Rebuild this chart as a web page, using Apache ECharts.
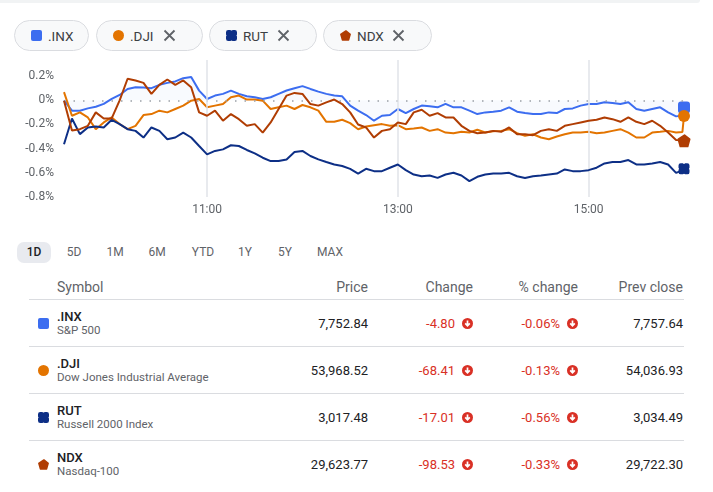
<html>
<head>
<meta charset="UTF-8">
<script src="https://cdn.jsdelivr.net/npm/echarts@6/dist/echarts.min.js"></script>
<style>
  body { margin: 0; background: #fff; font-family: Roboto, "Noto Sans", sans-serif; }
  #page { position: relative; width: 713px; height: 492px; overflow: hidden; }
  #chart { position: absolute; left: 0; top: 0; width: 713px; height: 230px; }
  .topband { position: absolute; left: 0; top: 0; width: 700px; height: 3px; background: #f1f3f4; border-bottom-right-radius: 6px; }
  .chip { position: absolute; top: 20px; height: 29px; border: 1px solid #dadce0; border-radius: 16px; background: #f8f9fa; box-sizing: content-box; }
  .chip .ic { position: absolute; top: 9px; left: 16px; width: 11px; height: 11px; }
  .chip .tx { position: absolute; top: 7px; left: 33px; font-size: 13.5px; color: #3c4043; line-height: 16px; }
  .chip .x { position: absolute; top: 8px; width: 13px; height: 13px; }
  .rng { position: absolute; top: 242px; height: 21px; line-height: 21px; font-size: 12px; color: #5f6368; text-align: center; transform: translateX(-50%); }
  .rng.on { background: #e8eaef; color: #202124; border-radius: 7px; width: 34px; font-weight: 500; }
  .hd { position: absolute; top: 279px; font-size: 14px; color: #5f6368; line-height: 16px; }
  .hr { position: absolute; left: 29px; width: 655px; height: 1px; background: #dadce0; }
  .sym { position: absolute; left: 57px; font-size: 13px; color: #202124; font-weight: 500; line-height: 15px; }
  .nm { position: absolute; left: 57px; font-size: 11.5px; color: #5f6368; line-height: 14px; white-space: nowrap; }
  .val { position: absolute; font-size: 13px; color: #202124; line-height: 15px; text-align: right; white-space: nowrap; }
  .neg { color: #d93025; }
  .ti { position: absolute; left: 38px; width: 11px; height: 11px; }
  .arr { position: absolute; width: 11px; height: 11px; }
</style>
</head>
<body>
<div id="page">
  <div class="topband"></div>
  <div id="chart"></div>
  <div id="ui"></div>
</div>
<script>
// minutes after 9:30
var minutes = [0, 5, 10, 15, 20, 25, 30, 35, 40, 45, 50, 55, 60, 65, 70, 75, 80, 85, 90, 95,
    100, 105, 110, 115, 120, 125, 130, 135, 140, 145, 150, 155, 160, 165, 170, 175, 180, 185, 190, 195,
    200, 205, 210, 215, 220, 225, 230, 235, 240, 245, 250, 255, 260, 265, 270, 275, 280, 285, 290, 295,
    300, 305, 310, 315, 320, 325, 330, 335, 340, 345, 350, 355, 360, 365, 370, 375, 380, 385, 389, 390];

var inxPct = [0.00, -0.086, -0.086, -0.067, -0.053, -0.03, 0.011, 0.044, 0.094, 0.108,
    0.106, 0.1, 0.128, 0.144, 0.156, 0.183, 0.192, 0.08, 0.011, 0.039,
    0.053, 0.08, 0.053, 0.033, 0.025, 0.011, 0.025, 0.053, 0.081, 0.1,
    0.117, 0.094, 0.072, 0.053, 0.039, 0.033, -0.044, -0.086, -0.122, -0.169,
    -0.128, -0.122, -0.072, -0.106, -0.072, -0.044, -0.05, -0.058, -0.03, -0.058,
    -0.058, -0.086, -0.114, -0.1, -0.094, -0.086, -0.058, -0.094, -0.106, -0.114,
    -0.114, -0.1, -0.106, -0.072, -0.067, -0.044, -0.031, -0.031, -0.017, -0.022,
    -0.031, -0.017, -0.072, -0.086, -0.072, -0.058, -0.1, -0.133, -0.125, -0.06];

var djiPct = [0.067, -0.128, -0.1, -0.142, -0.239, -0.183, -0.142, -0.197, -0.239, -0.211,
    -0.122, -0.114, -0.086, -0.1, -0.072, -0.044, -0.003, 0.011, -0.058, -0.044,
    -0.03, 0.025, 0.039, 0.006, 0.006, -0.003, -0.072, -0.058, -0.044, -0.072,
    -0.039, -0.058, -0.086, -0.178, -0.178, -0.161, -0.189, -0.239, -0.217, -0.206,
    -0.197, -0.211, -0.206, -0.239, -0.233, -0.225, -0.253, -0.239, -0.267, -0.272,
    -0.261, -0.267, -0.244, -0.267, -0.256, -0.253, -0.239, -0.272, -0.294, -0.281,
    -0.308, -0.322, -0.3, -0.281, -0.267, -0.267, -0.261, -0.272, -0.267, -0.253,
    -0.239, -0.267, -0.308, -0.308, -0.267, -0.261, -0.253, -0.267, -0.262, -0.13];

var rutPct = [-0.364, -0.15, -0.28, -0.225, -0.217, -0.225, -0.161, -0.197, -0.239, -0.253,
    -0.308, -0.225, -0.253, -0.322, -0.308, -0.267, -0.308, -0.378, -0.447, -0.419,
    -0.406, -0.372, -0.378, -0.411, -0.439, -0.475, -0.503, -0.503, -0.489, -0.428,
    -0.419, -0.461, -0.489, -0.511, -0.531, -0.544, -0.567, -0.606, -0.567, -0.586,
    -0.586, -0.558, -0.531, -0.578, -0.614, -0.628, -0.622, -0.642, -0.614, -0.6,
    -0.622, -0.669, -0.633, -0.614, -0.606, -0.606, -0.6, -0.628, -0.642, -0.628,
    -0.622, -0.614, -0.606, -0.572, -0.586, -0.586, -0.578, -0.558, -0.522, -0.511,
    -0.511, -0.494, -0.531, -0.531, -0.522, -0.511, -0.531, -0.6, -0.58, -0.567];

var ndxPct = [-0.003, -0.25, -0.239, -0.211, -0.1, -0.15, -0.15, 0.0, 0.178, 0.164,
    0.144, 0.053, 0.128, 0.172, 0.128, 0.164, 0.108, -0.1, -0.128, -0.086,
    -0.169, -0.114, -0.156, -0.211, -0.197, -0.267, -0.183, -0.072, 0.039, 0.061,
    0.053, -0.031, -0.044, -0.017, 0.006, -0.031, -0.1, -0.2, -0.225, -0.308,
    -0.253, -0.239, -0.183, -0.197, -0.1, -0.078, -0.128, -0.106, -0.142, -0.142,
    -0.211, -0.253, -0.272, -0.267, -0.253, -0.261, -0.225, -0.281, -0.281, -0.289,
    -0.253, -0.239, -0.253, -0.211, -0.197, -0.183, -0.169, -0.161, -0.142, -0.156,
    -0.178, -0.142, -0.178, -0.197, -0.169, -0.211, -0.267, -0.328, -0.33, -0.335];

var xTickMinutes = [90, 210, 330];
var xTickLabels = ['11:00', '13:00', '15:00'];

var symbols = ['.INX', '.DJI', 'RUT', 'NDX'];
var names = ['S&P 500', 'Dow Jones Industrial Average', 'Russell 2000 Index', 'Nasdaq-100'];
var prices = ['7,752.84', '53,968.52', '3,017.48', '29,623.77'];
var changes = ['-4.80', '-68.41', '-17.01', '-98.53'];
var pctChanges = ['-0.06%', '-0.13%', '-0.56%', '-0.33%'];
var prevCloses = ['7,757.64', '54,036.93', '3,034.49', '29,722.30'];
var ranges = ['1D', '5D', '1M', '6M', 'YTD', '1Y', '5Y', 'MAX'];
var headers = ['Symbol', 'Price', 'Change', '% change', 'Prev close'];

var colors = ['#3c6df0', '#e37400', '#0d2f86', '#b03d03'];
var rutPath = 'path://M2,0 L4,0 Q5,1 6,0 L8,0 Q10,0 10,2 L10,4 Q9,5 10,6 L10,8 Q10,10 8,10 L6,10 Q5,9 4,10 L2,10 Q0,10 0,8 L0,6 Q1,5 0,4 L0,2 Q0,0 2,0 Z';
var pentPath = 'path://M5,0.3 Q5.4,0 5.8,0.3 L9.7,3.3 Q10,3.6 9.9,4 L8.4,9.4 Q8.3,9.8 7.9,9.8 L2.1,9.8 Q1.7,9.8 1.6,9.4 L0.1,4 Q0,3.6 0.3,3.3 Z';
var markers = [
    { symbol: 'roundRect', size: 12 },
    { symbol: 'circle', size: 12 },
    { symbol: rutPath, size: 11 },
    { symbol: pentPath, size: 13 }
];

// little svg icons for chips and table
var iconSvg = [
    '<svg width="11" height="11" viewBox="0 0 11 11"><rect width="11" height="11" rx="2" fill="' + colors[0] + '"/></svg>',
    '<svg width="11" height="11" viewBox="0 0 11 11"><circle cx="5.5" cy="5.5" r="5.5" fill="' + colors[1] + '"/></svg>',
    '<svg width="11" height="11" viewBox="0 0 10 10"><path d="M2,0 L4,0 Q5,1 6,0 L8,0 Q10,0 10,2 L10,4 Q9,5 10,6 L10,8 Q10,10 8,10 L6,10 Q5,9 4,10 L2,10 Q0,10 0,8 L0,6 Q1,5 0,4 L0,2 Q0,0 2,0 Z" fill="' + colors[2] + '"/></svg>',
    '<svg width="11" height="11" viewBox="0 0 10 10"><path d="M5,0.3 Q5.4,0 5.8,0.3 L9.7,3.3 Q10,3.6 9.9,4 L8.4,9.4 Q8.3,9.8 7.9,9.8 L2.1,9.8 Q1.7,9.8 1.6,9.4 L0.1,4 Q0,3.6 0.3,3.3 Z" fill="' + colors[3] + '"/></svg>'
];
var closeSvg = '<svg width="13" height="13" viewBox="0 0 13 13"><path d="M1.5,1.5 L11.5,11.5 M11.5,1.5 L1.5,11.5" stroke="#5f6368" stroke-width="1.8"/></svg>';
var downSvg = '<svg width="11" height="11" viewBox="0 0 11 11"><circle cx="5.5" cy="5.5" r="5.5" fill="#d93025"/><path d="M5.5,2.6 L5.5,7.6 M3.2,5.4 L5.5,7.8 L7.8,5.4" stroke="#fff" stroke-width="1.7" fill="none"/></svg>';

// ---- html bits (chips, range buttons, table)
var html = '';
var chipLeft = [14, 96, 209, 323];
var chipWidth = [73, 105, 106, 107];
for (var i = 0; i < symbols.length; i++) {
    html += '<div class="chip" style="left:' + chipLeft[i] + 'px;width:' + chipWidth[i] + 'px">' +
        '<div class="ic">' + iconSvg[i] + '</div><div class="tx">' + symbols[i] + '</div>' +
        (i > 0 ? '<div class="x" style="left:' + (chipWidth[i] - 39) + 'px">' + closeSvg + '</div>' : '') +
        '</div>';
}
var rangeX = [34, 74, 115, 157, 203, 245, 285, 330];
for (var r = 0; r < ranges.length; r++) {
    html += '<div class="rng' + (r === 0 ? ' on' : '') + '" style="left:' + rangeX[r] + 'px">' + ranges[r] + '</div>';
}
html += '<div class="hd" style="left:57px">' + headers[0] + '</div>';
var colRight = [368, 473, 578, 683];
for (var h = 1; h < headers.length; h++) {
    html += '<div class="hd" style="right:' + (713 - colRight[h - 1]) + 'px">' + headers[h] + '</div>';
}
html += '<div class="hr" style="top:299px"></div>';
for (var j = 0; j < symbols.length; j++) {
    var rowTop = 300 + 47 * j;
    if (j > 0) html += '<div class="hr" style="top:' + (rowTop - 1) + 'px"></div>';
    html += '<div class="ti" style="top:' + (rowTop + 18) + 'px">' + iconSvg[j] + '</div>';
    html += '<div class="sym" style="top:' + (rowTop + 9) + 'px">' + symbols[j] + '</div>';
    html += '<div class="nm" style="top:' + (rowTop + 23) + 'px">' + names[j] + '</div>';
    var vt = rowTop + 16;
    html += '<div class="val" style="top:' + vt + 'px;right:' + (713 - 368) + 'px">' + prices[j] + '</div>';
    html += '<div class="val neg" style="top:' + vt + 'px;right:' + (713 - 455) + 'px">' + changes[j] + '</div>';
    html += '<div class="arr" style="top:' + (vt + 2) + 'px;left:462px">' + downSvg + '</div>';
    html += '<div class="val neg" style="top:' + vt + 'px;right:' + (713 - 560) + 'px">' + pctChanges[j] + '</div>';
    html += '<div class="arr" style="top:' + (vt + 2) + 'px;left:567px">' + downSvg + '</div>';
    html += '<div class="val" style="top:' + vt + 'px;right:' + (713 - 683) + 'px">' + prevCloses[j] + '</div>';
}
document.getElementById('ui').innerHTML = html;

// ---- chart
var chart = echarts.init(document.getElementById('chart'));

function buildData(vals, k) {
    var out = [];
    for (var i = 0; i < minutes.length; i++) {
        if (i === minutes.length - 1) {
            out.push({
                value: [minutes[i], vals[i]],
                symbol: markers[k].symbol,
                symbolSize: markers[k].size
            });
        } else {
            out.push([minutes[i], vals[i]]);
        }
    }
    return out;
}

var allVals = [inxPct, djiPct, rutPct, ndxPct];
var series = [];
for (var s = 0; s < symbols.length; s++) {
    series.push({
        name: symbols[s],
        type: 'line',
        data: buildData(allVals[s], s),
        symbol: 'none',
        showSymbol: true,
        lineStyle: { width: 2, color: colors[s] },
        itemStyle: { color: colors[s] },
        z: 3 + s
    });
}
// faint fill between S&P line and zero
series[0].areaStyle = { origin: 0, color: 'rgba(60,109,240,0.05)' };
series[0].markLine = {
    silent: true,
    symbol: 'none',
    label: { show: false },
    lineStyle: { color: '#9aa0a6', type: [1.5, 8], width: 1.5 },
    data: [{ yAxis: 0 }]
};
series[0].z = 4;
// vertical hour lines
series.push({
    type: 'line',
    data: [],
    z: 1,
    markLine: {
        silent: true,
        symbol: 'none',
        label: { show: false },
        lineStyle: { color: '#e0e3e9', type: 'solid', width: 1.5 },
        data: xTickMinutes.map(function (m) { return { xAxis: m }; })
    }
});

chart.setOption({
    animation: false,
    grid: { left: 64, right: 29, top: 60, bottom: 33 },
    xAxis: {
        type: 'value',
        min: 0,
        max: 390,
        axisLine: { show: false },
        axisTick: { show: false },
        splitLine: { show: false },
        axisLabel: {
            customValues: xTickMinutes,
            color: '#5f6368',
            fontSize: 12,
            margin: 7,
            fontFamily: 'Roboto',
            formatter: function (v) {
                var idx = xTickMinutes.indexOf(v);
                return idx >= 0 ? xTickLabels[idx] : '';
            }
        }
    },
    yAxis: {
        type: 'value',
        min: -0.8,
        max: 0.3333,
        interval: 0.2,
        axisLine: { show: false },
        axisTick: { show: false },
        splitLine: { show: false },
        axisLabel: {
            color: '#5f6368',
            fontSize: 12,
            margin: 10,
            fontFamily: 'Roboto',
            formatter: function (v) {
                if (Math.abs(v * 5 - Math.round(v * 5)) > 1e-6) return '';
                if (Math.abs(v) < 1e-9) return '0%';
                return v.toFixed(1) + '%';
            }
        }
    },
    series: series
});
</script>
</body>
</html>
